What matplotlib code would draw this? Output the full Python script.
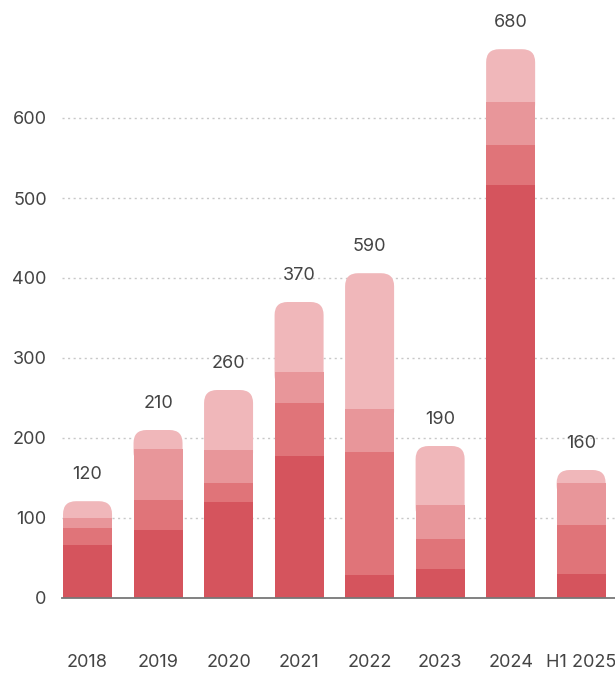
import matplotlib.pyplot as plt
from matplotlib.patches import FancyBboxPatch

plt.rcParams['font.family'] = ['Inter', 'DejaVu Sans']

# periods and stacked segment values (bottom to top)
periods = ["2018", "2019", "2020", "2021", "2022", "2023", "2024", "H1 2025"]
seg1 = [66, 85, 120, 178, 29, 36, 516, 30]
seg2 = [21, 37, 24, 66, 153, 38, 50, 61]
seg3 = [13, 64, 41, 38, 54, 42, 54, 53]
seg4 = [21, 24, 75, 88, 170, 74, 66, 16]
top_labels = ["120", "210", "260", "370", "590", "190", "680", "160"]
yticks = [0, 100, 200, 300, 400, 500, 600]

colors = ["#d5545d", "#e07479", "#e8969a", "#f0b7ba"]
text_color = "#444444"

fig = plt.figure(figsize=(6.15, 6.77), dpi=100)
ax = fig.add_axes([62 / 615, 79 / 677, 553 / 615, 598 / 677])

x_lo, x_hi = -0.362, 7.48
y_lo, y_hi = 0, 747.5
ax.set_xlim(x_lo, x_hi)
ax.set_ylim(y_lo, y_hi)

width = 0.695
xs = list(range(len(periods)))

# gridlines behind the bars
for t in yticks[1:]:
    ax.axhline(t, color="#c8c8c8", lw=1.0, ls=(0, (1.5, 2.5)), zorder=0)

# px per data unit, used to keep the top corners circular
px_x = 553 / (x_hi - x_lo)
px_y = 598 / (y_hi - y_lo)
radius_px = 13
r_x = radius_px / px_x
aspect = px_x / px_y

for i in xs:
    b1 = seg1[i]
    b2 = b1 + seg2[i]
    b3 = b2 + seg3[i]
    left = i - width / 2
    # top segment with rounded corners; its lower part is covered by the segments below
    ext = radius_px / px_y * 1.2
    box = FancyBboxPatch((left, b3 - ext), width, seg4[i] + ext,
                         boxstyle="round,pad=0,rounding_size=%f" % r_x,
                         mutation_aspect=aspect, fc=colors[3], ec="none",
                         zorder=2)
    ax.add_patch(box)

ax.bar(xs, seg1, width, color=colors[0], zorder=3)
ax.bar(xs, seg2, width, bottom=seg1, color=colors[1], zorder=3)
bottom3 = [a + b for a, b in zip(seg1, seg2)]
ax.bar(xs, seg3, width, bottom=bottom3, color=colors[2], zorder=3)

totals = [a + b + c + d for a, b, c, d in zip(seg1, seg2, seg3, seg4)]
for i in xs:
    ax.annotate(top_labels[i], (i, totals[i]), xytext=(0, 19), textcoords="offset points",
                ha="center", va="center", fontsize=13, color=text_color)

for s in ["top", "right", "left"]:
    ax.spines[s].set_visible(False)
ax.spines["bottom"].set_color("#777777")
ax.spines["bottom"].set_linewidth(1.3)
ax.spines["bottom"].set_zorder(4)

ax.set_yticks(yticks)
ax.set_yticklabels([str(t) for t in yticks])
ax.set_xticks(xs)
ax.set_xticklabels(periods)
ax.tick_params(axis="y", length=0, pad=11, labelsize=13, labelcolor=text_color)
ax.tick_params(axis="x", length=0, pad=40, labelsize=13, labelcolor=text_color)

fig.savefig("out.png", dpi=100)
